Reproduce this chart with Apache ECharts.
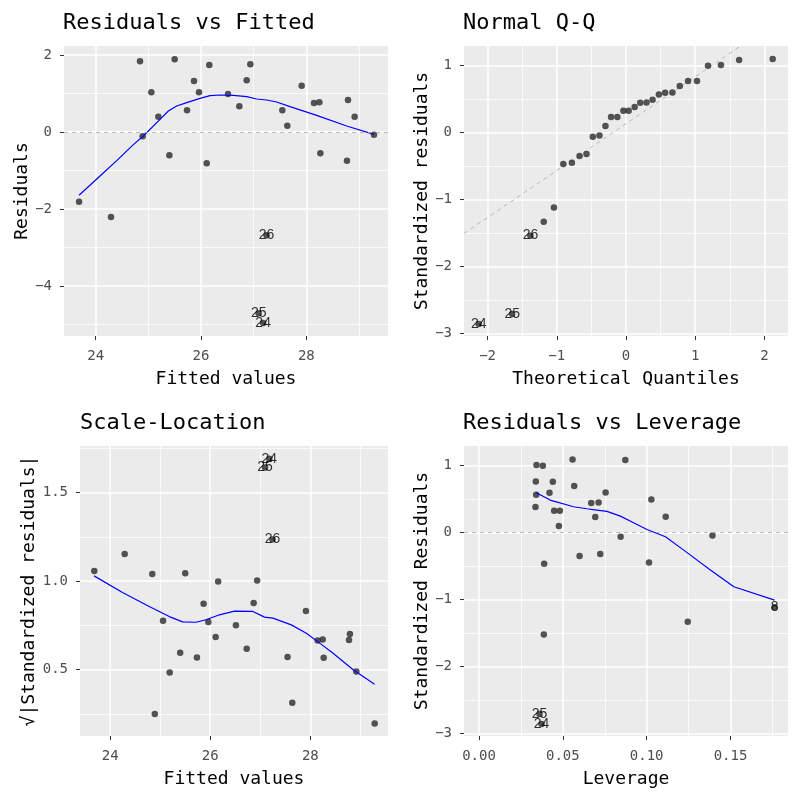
<!DOCTYPE html>
<html><head><meta charset="utf-8">
<script src="https://cdn.jsdelivr.net/npm/echarts@6/dist/echarts.min.js"></script>
<style>html,body{margin:0;padding:0;background:#fff}#c{width:800px;height:800px}</style>
</head><body><div id="c"></div>
<script>
// ---------- data ----------
// Residuals vs Fitted / Scale-Location (shared fitted values, unlabelled points)
const fittedValues = [23.684, 24.291, 24.842, 24.892, 25.057, 25.190, 25.399, 25.500, 25.734, 25.867, 25.962, 26.108, 26.158, 26.513, 26.728, 26.867, 26.937, 27.544, 27.639, 27.911, 28.146, 28.247, 28.266, 28.772, 28.791, 28.918, 29.285];
const residuals = [-1.810, -2.208, 1.835, -0.113, 1.030, 0.398, -0.606, 1.887, 0.563, 1.325, 1.030, -0.814, 1.740, 0.987, 0.667, 1.342, 1.758, 0.563, 0.165, 1.203, 0.753, 0.771, -0.554, -0.745, 0.831, 0.398, -0.069];
const sqrtStdResiduals = [1.058, 1.153, 1.040, 0.250, 0.776, 0.484, 0.595, 1.045, 0.569, 0.872, 0.770, 0.684, 0.998, 0.751, 0.618, 0.876, 1.004, 0.571, 0.313, 0.832, 0.665, 0.670, 0.567, 0.667, 0.702, 0.490, 0.196];
// labelled observations
const labelIds = ['26', '25', '24'];
const labelFitted = [27.245, 27.095, 27.180];
const labelResiduals = [-2.68, -4.71, -4.96];
const labelSqrtStd = [1.236, 1.642, 1.692];
// loess smooths
const rvfSmoothX = [23.684, 24.082, 24.399, 24.715, 24.905, 25.222, 25.380, 25.538, 25.728, 25.981, 26.171, 26.361, 26.614, 26.867, 27.057, 27.247, 27.437, 27.690, 28.196, 28.766, 29.285];
const rvfSmoothY = [-1.645, -1.143, -0.745, -0.329, -0.104, 0.329, 0.545, 0.675, 0.762, 0.874, 0.944, 0.961, 0.952, 0.918, 0.857, 0.831, 0.779, 0.658, 0.433, 0.156, -0.061];
const slSmoothX = [23.679, 24.247, 24.781, 25.182, 25.449, 25.716, 25.917, 26.184, 26.484, 26.851, 27.085, 27.252, 27.619, 27.920, 28.187, 28.454, 28.855, 29.282];
const slSmoothY = [1.030, 0.936, 0.857, 0.800, 0.770, 0.768, 0.782, 0.810, 0.831, 0.829, 0.797, 0.791, 0.753, 0.706, 0.650, 0.593, 0.499, 0.418];

// Normal Q-Q
const qqTheoretical = [-1.189, -1.041, -0.906, -0.782, -0.671, -0.571, -0.480, -0.384, -0.297, -0.216, -0.125, -0.038, 0.038, 0.125, 0.206, 0.297, 0.384, 0.475, 0.566, 0.671, 0.777, 0.897, 1.026, 1.185, 1.372, 1.635, 2.120];
const qqSample = [-1.333, -1.118, -0.471, -0.451, -0.351, -0.321, -0.062, -0.042, 0.097, 0.232, 0.232, 0.326, 0.326, 0.381, 0.446, 0.451, 0.491, 0.570, 0.595, 0.600, 0.695, 0.770, 0.770, 0.999, 1.009, 1.083, 1.098];
const qqLabelIds = ['26', '25', '24'];
const qqLabelTheoretical = [-1.381, -1.645, -2.128];
const qqLabelSample = [-1.54, -2.71, -2.86];
const qqRefLineX = [-2.341, 1.70];
const qqRefLineY = [-1.507, 1.324];

// Residuals vs Leverage
const leverage = [0.03426, 0.03805, 0.03386, 0.04402, 0.04203, 0.03406, 0.03367, 0.04482, 0.04821, 0.04761, 0.03884, 0.03865, 0.05578, 0.05677, 0.05996, 0.06693, 0.06932, 0.07131, 0.07231, 0.07550, 0.08446, 0.08725, 0.10139, 0.10279, 0.11135, 0.12450, 0.13924];
const levStdResiduals = [1.009, 0.999, 0.765, 0.760, 0.595, 0.565, 0.381, 0.326, 0.326, 0.097, -0.466, -1.522, 1.093, 0.695, -0.351, 0.441, 0.232, 0.451, -0.321, 0.600, -0.062, 1.083, -0.446, 0.496, 0.237, -1.333, -0.042];
const levLabelIds = ['25', '24', '8'];
const levLabelX = [0.0361, 0.0373, 0.1763];
const levLabelY = [-2.71, -2.86, -1.115];
const levSmoothX = [0.0339, 0.0424, 0.0564, 0.0643, 0.0703, 0.0763, 0.0843, 0.0922, 0.1002, 0.1112, 0.1221, 0.1380, 0.1520, 0.1763];
const levSmoothY = [0.600, 0.486, 0.386, 0.356, 0.336, 0.316, 0.246, 0.147, 0.047, -0.062, -0.262, -0.560, -0.809, -1.009];

// tick values
const fittedTicks = [24, 26, 28], fittedMinor = [25, 27, 29];
const residTicks = [-4, -2, 0, 2], residMinor = [-5, -3, -1, 1];
const qqXTicks = [-2, -1, 0, 1, 2], qqXMinor = [-1.5, -0.5, 0.5, 1.5];
const stdTicks = [-3, -2, -1, 0, 1], stdMinor = [-2.5, -1.5, -0.5, 0.5];
const slTicks = [0.5, 1.0, 1.5], slMinor = [0.25, 0.75, 1.25, 1.75];
const levTicks = [0, 0.05, 0.10, 0.15], levMinor = [0.025, 0.075, 0.125, 0.175];

// ---------- chart ----------
const FONT = "'DejaVu Sans Mono', monospace";
const LABEL_FONT = "'Liberation Sans', Arial, sans-serif";
const zip = (a, b) => a.map((v, i) => [v, b[i]]);
const zip3 = (a, b, c) => a.map((v, i) => [v, b[i], c[i]]);
const fmtInt = v => String(Math.round(v)).replace('-', '\u2212');
const fmt1 = v => v.toFixed(1);
const fmt2 = v => v.toFixed(2);

const gridRects = [
  {left: 64, top: 46, width: 324, height: 290},
  {left: 464, top: 46, width: 324, height: 290},
  {left: 80, top: 446, width: 308, height: 290},
  {left: 464, top: 446, width: 324, height: 290}
];

function axisPair(dim, gi, min, max, major, minor, fmt, name, nameGap) {
  const isX = dim === 'x';
  return [{
    type: 'value', gridIndex: gi, min: min, max: max, position: isX ? 'bottom' : 'left',
    axisLine: {show: false, onZero: false},
    axisTick: {show: true, length: 4, lineStyle: {color: '#333333', width: 1}, customValues: major},
    axisLabel: {show: true, customValues: major, formatter: fmt, color: '#4D4D4D', fontSize: 14,
      fontFamily: FONT, margin: isX ? 13 : 12},
    splitLine: {show: true, lineStyle: {color: '#FFFFFF', width: 1.5}},
    name: name, nameLocation: 'middle', nameGap: nameGap,
    nameTextStyle: {color: '#000000', fontSize: 18, fontFamily: FONT}
  }, {
    type: 'value', gridIndex: gi, min: min, max: max, position: isX ? 'bottom' : 'left',
    axisLine: {show: false, onZero: false},
    axisTick: {show: false, customValues: minor},
    axisLabel: {show: false},
    splitLine: {show: true, lineStyle: {color: '#FFFFFF', width: 0.75}}
  }];
}

const xAxis = [].concat(
  axisPair('x', 0, 23.398, 29.551, fittedTicks, fittedMinor, fmtInt, 'Fitted values', 34),
  axisPair('x', 1, -2.341, 2.341, qqXTicks, qqXMinor, fmtInt, 'Theoretical Quantiles', 34),
  axisPair('x', 2, 23.398, 29.551, fittedTicks, fittedMinor, fmtInt, 'Fitted values', 34),
  axisPair('x', 3, -0.00897, 0.1843, levTicks, levMinor, fmt2, 'Leverage', 34)
);
const yAxis = [].concat(
  axisPair('y', 0, -5.30, 2.234, residTicks, residMinor, fmtInt, 'Residuals', 33),
  axisPair('y', 1, -3.04, 1.294, stdTicks, stdMinor, fmtInt, 'Standardized residuals', 32),
  axisPair('y', 2, 0.125, 1.764, slTicks, slMinor, fmt1, '\u221A|Standardized residuals|', 37),
  axisPair('y', 3, -3.04, 1.294, stdTicks, stdMinor, fmtInt, 'Standardized Residuals', 32)
);

const pointStyle = {color: '#2A2A2A'};
function points(gi, data, extra) {
  return Object.assign({type: 'scatter', xAxisIndex: gi * 2, yAxisIndex: gi * 2, data: data,
    symbolSize: 6.5, itemStyle: pointStyle, z: 3}, extra || {});
}
function smooth(gi, data) {
  return {type: 'line', xAxisIndex: gi * 2, yAxisIndex: gi * 2, data: data, showSymbol: false,
    symbol: 'none', lineStyle: {color: '#0000FF', width: 1.2}, z: 4, clip: true};
}
function labels(gi, data) {
  return {type: 'scatter', xAxisIndex: gi * 2, yAxisIndex: gi * 2, data: data, symbolSize: 6,
    itemStyle: {color: 'rgba(0,0,0,0)'}, z: 5,
    label: {show: true, position: 'inside', formatter: p => p.value[2], color: '#000000',
      fontSize: 14, fontFamily: LABEL_FONT}};
}
const zeroLine = {silent: true, symbol: ['none', 'none'], label: {show: false},
  lineStyle: {color: '#AAAAAA', type: [4, 4], width: 0.8}, data: [{yAxis: 0}]};

const series = [
  points(0, zip(fittedValues, residuals).concat(zip(labelFitted, labelResiduals)), {markLine: zeroLine}),
  smooth(0, zip(rvfSmoothX, rvfSmoothY)),
  labels(0, zip3(labelFitted, labelResiduals, labelIds)),

  {type: 'line', xAxisIndex: 2, yAxisIndex: 2, data: zip(qqRefLineX, qqRefLineY), showSymbol: false,
    symbol: 'none', clip: true, z: 2, lineStyle: {color: '#AAAAAA', type: [4, 4], width: 0.8}},
  points(1, zip(qqTheoretical, qqSample).concat(zip(qqLabelTheoretical, qqLabelSample))),
  labels(1, zip3(qqLabelTheoretical, qqLabelSample, qqLabelIds)),

  points(2, zip(fittedValues, sqrtStdResiduals).concat(zip(labelFitted, labelSqrtStd))),
  smooth(2, zip(slSmoothX, slSmoothY)),
  labels(2, zip3(labelFitted, labelSqrtStd, labelIds)),

  points(3, zip(leverage, levStdResiduals).concat(zip(levLabelX, levLabelY)), {markLine: zeroLine}),
  smooth(3, zip(levSmoothX, levSmoothY)),
  labels(3, zip3(levLabelX, levLabelY, levLabelIds))
];

const titleStyle = {fontFamily: FONT, fontSize: 22, fontWeight: 'normal', color: '#000000'};
const option = {
  animation: false,
  backgroundColor: '#FFFFFF',
  title: [
    {text: 'Residuals vs Fitted', left: 63, top: 12, padding: 0, textStyle: titleStyle},
    {text: 'Normal Q-Q', left: 463, top: 12, padding: 0, textStyle: titleStyle},
    {text: 'Scale-Location', left: 80, top: 412, padding: 0, textStyle: titleStyle},
    {text: 'Residuals vs Leverage', left: 463, top: 412, padding: 0, textStyle: titleStyle}
  ],
  grid: gridRects.map(r => Object.assign({show: true, backgroundColor: '#EBEBEB', borderWidth: 0,
    containLabel: false}, r)),
  xAxis: xAxis,
  yAxis: yAxis,
  series: series
};
const chart = echarts.init(document.getElementById('c'), null, {renderer: 'canvas'});
chart.setOption(option);
</script>
</body></html>
